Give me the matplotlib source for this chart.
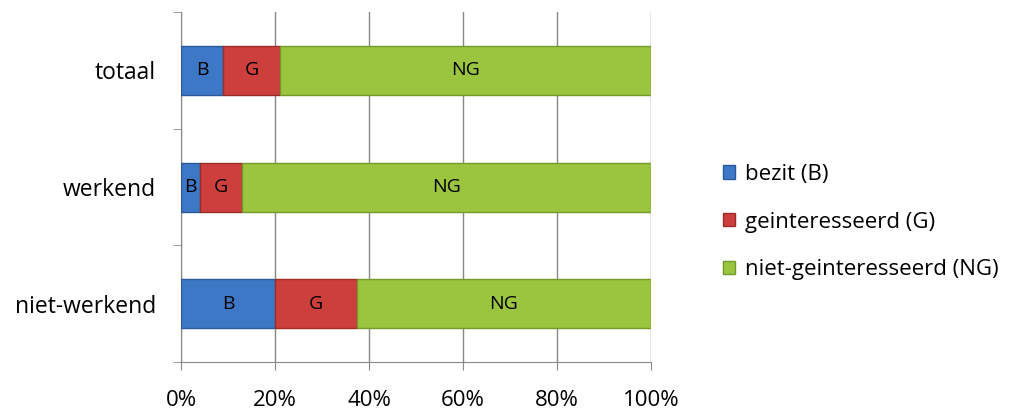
import matplotlib.pyplot as plt
import numpy as np

plt.rcParams['font.family'] = ['Open Sans', 'DejaVu Sans']

# groepen van onder naar boven
groepen = ['niet-werkend', 'werkend', 'totaal']
bezit = [20.0, 4.0, 9.0]
geinteresseerd = [17.5, 9.0, 12.0]
niet_geinteresseerd = [62.5, 87.0, 79.0]

reeksen = ['bezit (B)', 'geinteresseerd (G)', 'niet-geinteresseerd (NG)']
afkortingen = ['B', 'G', 'NG']
kleuren = ['#3d78c6', '#cc3f3c', '#9bc43f']
randen = ['#2a5a9a', '#9a2c2a', '#76992c']

fig = plt.figure(figsize=(10.17, 4.17), dpi=100)
ax = fig.add_axes([0.178, 0.132, 0.462, 0.839])

y = np.arange(len(groepen))
links = np.zeros(len(groepen))
for waarden, naam, afk, kleur, rand in zip([bezit, geinteresseerd, niet_geinteresseerd],
                                           reeksen, afkortingen, kleuren, randen):
    balken = ax.barh(y, waarden, left=links, height=0.42, color=kleur,
                     edgecolor=rand, linewidth=1.0, label=naam, zorder=3)
    for b, w in zip(balken, waarden):
        ax.text(b.get_x() + w / 2, b.get_y() + b.get_height() / 2, afk,
                ha='center', va='center', fontsize=14, color='black', zorder=4)
    links += np.array(waarden)

ax.set_xlim(0, 100)
ax.set_ylim(-0.5, 2.5)
ax.set_xticks(np.arange(0, 101, 20))
ax.set_xticklabels([f'{v}%' for v in range(0, 101, 20)], fontsize=16)
ax.set_yticks(y)
ax.set_yticklabels(groepen, fontsize=16.5)
ax.set_yticks(np.arange(-0.5, 2.6, 1), minor=True)
ax.tick_params(axis='y', which='major', length=0, pad=18)
ax.tick_params(axis='y', which='minor', length=6, color='#888888', direction='out')
ax.tick_params(axis='x', length=6, color='#888888', pad=14)

ax.grid(axis='x', color='#888888', linewidth=1.0, zorder=0)
for s in ['top', 'right']:
    ax.spines[s].set_visible(False)
for s in ['left', 'bottom']:
    ax.spines[s].set_color('#888888')

ax.legend(loc='center left', bbox_to_anchor=(1.11, 0.40), frameon=False,
          fontsize=16, handlelength=0.55, handleheight=0.55, handletextpad=0.45,
          labelspacing=1.2)

fig.savefig('out.png', dpi=100)
